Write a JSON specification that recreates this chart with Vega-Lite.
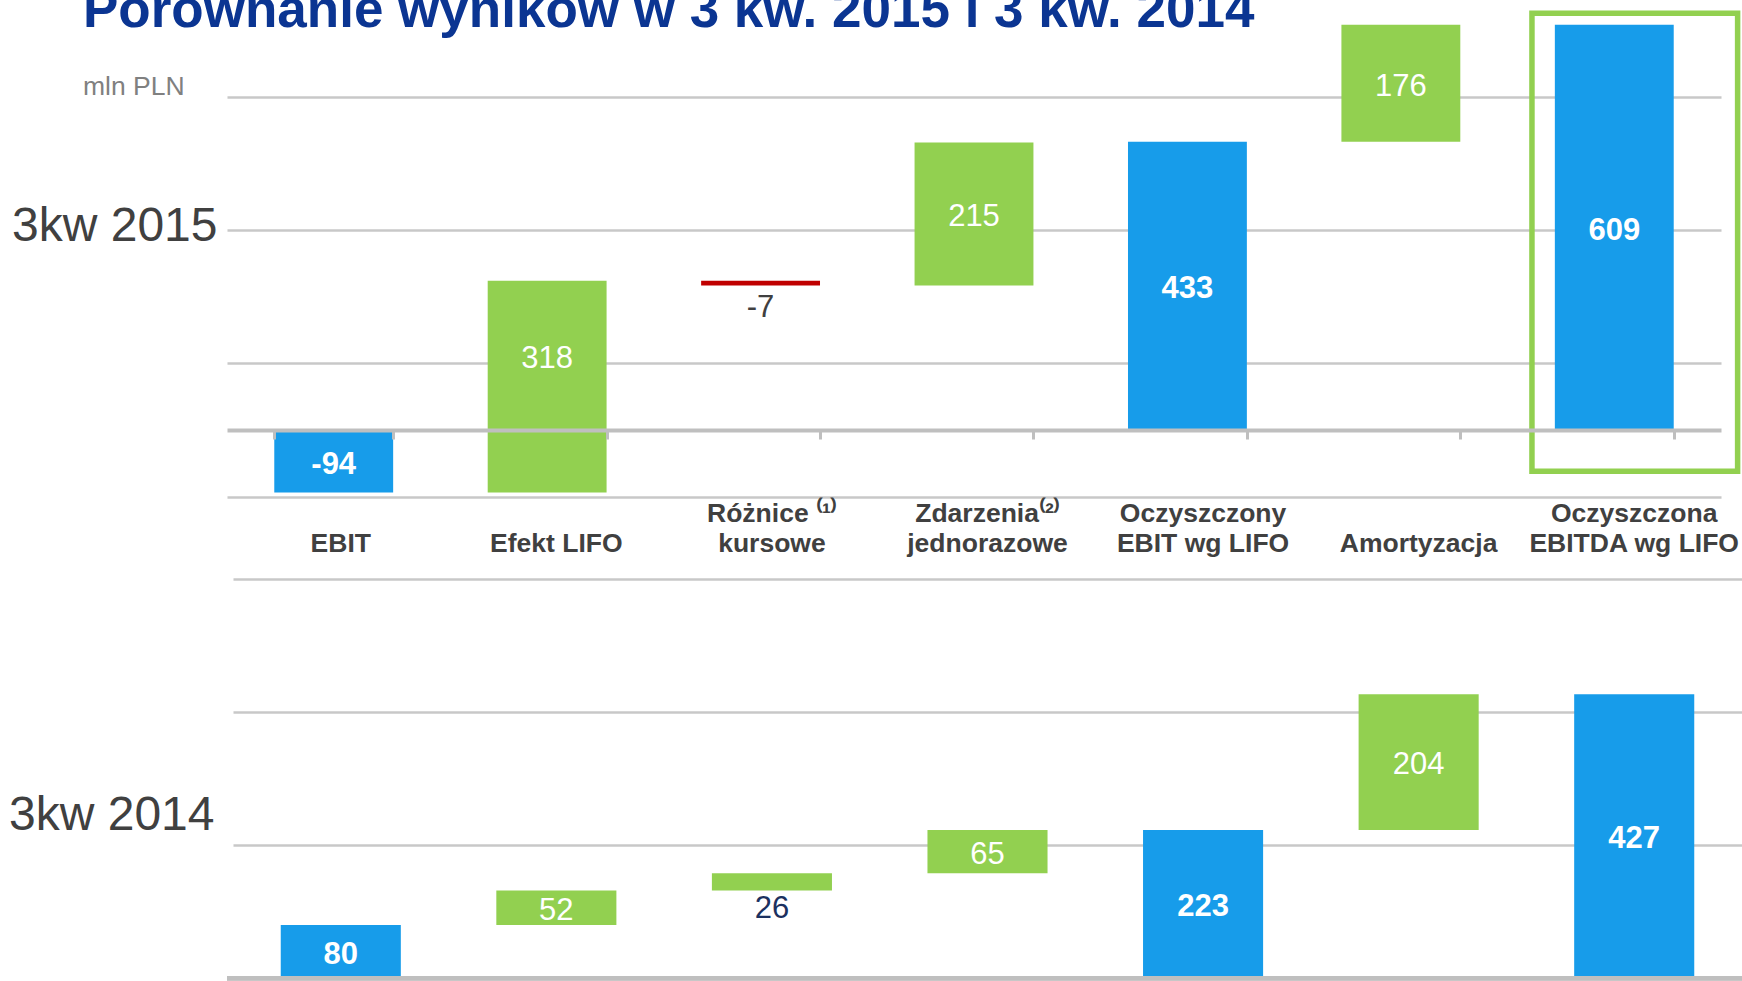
{
  "$schema": "https://vega.github.io/schema/vega-lite/v6.json",
  "autosize": {"type": "none"},
  "padding": {"left": 227, "top": 0, "right": 1515, "bottom": 981},
  "bounds": "flush",
  "spacing": 82,
  "config": {"view": {"stroke": null}, "font": "Liberation Sans"},
  "datasets": {
    "q2015": [
      {"cat": "EBIT", "start": 0, "end": -94, "value": -94, "kind": "total"},
      {"cat": "Efekt LIFO", "start": -94, "end": 224, "value": 318, "kind": "increase"},
      {"cat": "Różnice kursowe", "start": 224, "end": 217, "value": -7, "kind": "decrease"},
      {"cat": "Zdarzenia jednorazowe", "start": 217, "end": 432, "value": 215, "kind": "increase"},
      {"cat": "Oczyszczony EBIT wg LIFO", "start": 0, "end": 433, "value": 433, "kind": "total"},
      {"cat": "Amortyzacja", "start": 433, "end": 609, "value": 176, "kind": "increase"},
      {"cat": "Oczyszczona EBITDA wg LIFO", "start": 0, "end": 609, "value": 609, "kind": "total"}
    ],
    "q2014": [
      {"cat": "EBIT", "start": 0, "end": 80, "value": 80, "kind": "total"},
      {"cat": "Efekt LIFO", "start": 80, "end": 132, "value": 52, "kind": "increase"},
      {"cat": "Różnice kursowe", "start": 132, "end": 158, "value": 26, "kind": "increase"},
      {"cat": "Zdarzenia jednorazowe", "start": 158, "end": 223, "value": 65, "kind": "increase"},
      {"cat": "Oczyszczony EBIT wg LIFO", "start": 0, "end": 223, "value": 223, "kind": "total"},
      {"cat": "Amortyzacja", "start": 223, "end": 427, "value": 204, "kind": "increase"},
      {"cat": "Oczyszczona EBITDA wg LIFO", "start": 0, "end": 427, "value": 427, "kind": "total"}
    ]
  },
  "vconcat": [
    {
      "width": 1494,
      "height": 496.5,
      "title": {
        "text": "Porównanie wyników w 3 kw. 2015 i 3 kw. 2014",
        "subtitle": "mln PLN",
        "anchor": "start",
        "frame": "group",
        "dx": -144,
        "offset": -100,
        "font": "Liberation Sans",
        "fontSize": 53,
        "fontWeight": "bold",
        "color": "#0B3592",
        "subtitleFont": "Liberation Sans",
        "subtitleFontSize": 26.5,
        "subtitleColor": "#808080",
        "subtitlePadding": 36
      },
      "data": {"name": "q2015"},
      "layer": [
        {
          "mark": {"type": "bar"},
          "encoding": {
            "x": {
              "field": "cat", "type": "nominal",
              "scale": {"domain": ["EBIT", "Efekt LIFO", "Różnice kursowe", "Zdarzenia jednorazowe", "Oczyszczony EBIT wg LIFO", "Amortyzacja", "Oczyszczona EBITDA wg LIFO"], "paddingInner": 0.443, "paddingOuter": 0.2215},
              "axis": {"orient": "bottom", "offset": -66.5, "labels": false, "title": null, "domain": true, "domainColor": "#BFBFBF", "domainWidth": 4, "ticks": true, "tickBand": "extent", "tickSize": 9, "tickWidth": 3, "tickColor": "#BFBFBF", "grid": false, "zindex": 1}
            },
            "y": {
              "field": "start", "type": "quantitative", "title": "3kw 2015",
              "scale": {"domain": [-100, 646], "nice": false, "zero": false},
              "axis": {"values": [-100, 100, 300, 500], "grid": true, "gridColor": "#C8C8C8", "gridWidth": 2.5, "labels": false, "ticks": false, "domain": false, "titleAngle": 0, "titleAlign": "right", "titleBaseline": "middle", "titleX": -10, "titleY": 226, "titleFont": "Liberation Sans", "titleFontSize": 48, "titleFontWeight": "normal", "titleColor": "#404040", "zindex": 0}
            },
            "y2": {"field": "end"},
            "color": {"field": "kind", "type": "nominal", "scale": {"domain": ["total", "increase", "decrease"], "range": ["#179CEA", "#92D050", "#C00000"]}, "legend": null}
          }
        },
        {
          "data": {"values": [{"cat": "Oczyszczona EBITDA wg LIFO"}]},
          "mark": {"type": "bar", "filled": false, "color": "#92D050", "strokeWidth": 5.5, "width": {"band": 1.73}, "xOffset": 20.5},
          "encoding": {
            "x": {"field": "cat", "type": "nominal"},
            "y": {"datum": 626, "title": "3kw 2015"},
            "y2": {"datum": -62}
          }
        },
        {
          "transform": [
            {"calculate": "min(datum.start, datum.end)", "as": "lo"},
            {"calculate": "max(datum.start, datum.end)", "as": "hi"},
            {"calculate": "datum.lo < 0 && datum.hi > 0 ? datum.hi / 2 : (datum.lo + datum.hi) / 2", "as": "mid"},
            {"filter": "abs(datum.value) >= 30 && datum.kind == 'total'"}
          ],
          "mark": {"type": "text", "font": "Liberation Sans", "fontSize": 31, "fontWeight": "bold", "color": "#FFFFFF", "baseline": "middle", "dy": 3.5},
          "encoding": {
            "x": {"field": "cat", "type": "nominal"},
            "y": {"field": "mid", "type": "quantitative", "title": "3kw 2015"},
            "text": {"field": "value", "type": "nominal"}
          }
        },
        {
          "transform": [
            {"calculate": "min(datum.start, datum.end)", "as": "lo"},
            {"calculate": "max(datum.start, datum.end)", "as": "hi"},
            {"calculate": "datum.lo < 0 && datum.hi > 0 ? datum.hi / 2 : (datum.lo + datum.hi) / 2", "as": "mid"},
            {"filter": "abs(datum.value) >= 30 && datum.kind != 'total'"}
          ],
          "mark": {"type": "text", "font": "Liberation Sans", "fontSize": 31, "fontWeight": "normal", "color": "#FFFFFF", "baseline": "middle", "dy": 3.5},
          "encoding": {
            "x": {"field": "cat", "type": "nominal"},
            "y": {"field": "mid", "type": "quantitative", "title": "3kw 2015"},
            "text": {"field": "value", "type": "nominal"}
          }
        },
        {
          "transform": [
            {"calculate": "min(datum.start, datum.end)", "as": "lo"},
            {"filter": "abs(datum.value) < 30"}
          ],
          "mark": {"type": "text", "font": "Liberation Sans", "fontSize": 31, "fontWeight": "normal", "color": "#404040", "baseline": "top", "dy": 7},
          "encoding": {
            "x": {"field": "cat", "type": "nominal"},
            "y": {"field": "lo", "type": "quantitative", "title": "3kw 2015"},
            "text": {"field": "value", "type": "nominal"}
          }
        }
      ]
    },
    {
      "width": 1515,
      "height": 399.3,
      "data": {"name": "q2014"},
      "layer": [
        {
          "mark": {"type": "bar"},
          "encoding": {
            "x": {
              "field": "cat", "type": "nominal",
              "scale": {"domain": ["EBIT", "Efekt LIFO", "Różnice kursowe", "Zdarzenia jednorazowe", "Oczyszczony EBIT wg LIFO", "Amortyzacja", "Oczyszczona EBITDA wg LIFO"], "paddingInner": 0.443, "paddingOuter": 0.2215, "range": [6, 1515]},
              "axis": {
                "orient": "top", "title": null, "domain": false, "ticks": false, "tickSize": 0, "grid": false,
                "labelAngle": 0, "labelOverlap": false, "labelLimit": 0, "labelPadding": 52,
                "labelFont": "Liberation Sans", "labelFontSize": 26.5, "labelFontWeight": "bold", "labelColor": "#404040", "labelLineHeight": 30,
                "labelExpr": "datum.value == 'Różnice kursowe' ? ['Różnice ⁽¹⁾', 'kursowe'] : datum.value == 'Zdarzenia jednorazowe' ? ['Zdarzenia⁽²⁾', 'jednorazowe'] : datum.value == 'Oczyszczony EBIT wg LIFO' ? ['Oczyszczony', 'EBIT wg LIFO'] : datum.value == 'Oczyszczona EBITDA wg LIFO' ? ['Oczyszczona', 'EBITDA wg LIFO'] : ['', datum.value]"
              }
            },
            "y": {
              "field": "start", "type": "quantitative", "title": "3kw 2014",
              "scale": {"domain": [0, 600], "nice": false, "zero": false},
              "axis": {"values": [200, 400, 600], "grid": true, "gridColor": "#C8C8C8", "gridWidth": 2.5, "labels": false, "ticks": false, "domain": false, "titleAngle": 0, "titleAlign": "right", "titleBaseline": "middle", "titleX": -13, "titleY": 236, "titleFont": "Liberation Sans", "titleFontSize": 48, "titleFontWeight": "normal", "titleColor": "#404040", "zindex": 0}
            },
            "y2": {"field": "end"},
            "color": {"field": "kind", "type": "nominal", "scale": {"domain": ["total", "increase", "decrease"], "range": ["#179CEA", "#92D050", "#C00000"]}, "legend": null}
          }
        },
        {
          "mark": {"type": "rule", "color": "#BFBFBF", "strokeWidth": 4},
          "encoding": {"y": {"datum": 0, "title": "3kw 2014"}}
        },
        {
          "transform": [
            {"calculate": "min(datum.start, datum.end)", "as": "lo"},
            {"calculate": "max(datum.start, datum.end)", "as": "hi"},
            {"calculate": "datum.lo < 0 && datum.hi > 0 ? datum.hi / 2 : (datum.lo + datum.hi) / 2", "as": "mid"},
            {"filter": "abs(datum.value) >= 30 && datum.kind == 'total'"}
          ],
          "mark": {"type": "text", "font": "Liberation Sans", "fontSize": 31, "fontWeight": "bold", "color": "#FFFFFF", "baseline": "middle", "dy": 3},
          "encoding": {
            "x": {"field": "cat", "type": "nominal"},
            "y": {"field": "mid", "type": "quantitative", "title": "3kw 2014"},
            "text": {"field": "value", "type": "nominal"}
          }
        },
        {
          "transform": [
            {"calculate": "min(datum.start, datum.end)", "as": "lo"},
            {"calculate": "max(datum.start, datum.end)", "as": "hi"},
            {"calculate": "datum.lo < 0 && datum.hi > 0 ? datum.hi / 2 : (datum.lo + datum.hi) / 2", "as": "mid"},
            {"filter": "abs(datum.value) >= 30 && datum.kind != 'total'"}
          ],
          "mark": {"type": "text", "font": "Liberation Sans", "fontSize": 31, "fontWeight": "normal", "color": "#FFFFFF", "baseline": "middle", "dy": 3},
          "encoding": {
            "x": {"field": "cat", "type": "nominal"},
            "y": {"field": "mid", "type": "quantitative", "title": "3kw 2014"},
            "text": {"field": "value", "type": "nominal"}
          }
        },
        {
          "transform": [
            {"calculate": "min(datum.start, datum.end)", "as": "lo"},
            {"filter": "abs(datum.value) < 30"}
          ],
          "mark": {"type": "text", "font": "Liberation Sans", "fontSize": 31, "fontWeight": "normal", "color": "#1B3160", "baseline": "top", "dy": 4},
          "encoding": {
            "x": {"field": "cat", "type": "nominal"},
            "y": {"field": "lo", "type": "quantitative", "title": "3kw 2014"},
            "text": {"field": "value", "type": "nominal"}
          }
        }
      ]
    }
  ]
}
